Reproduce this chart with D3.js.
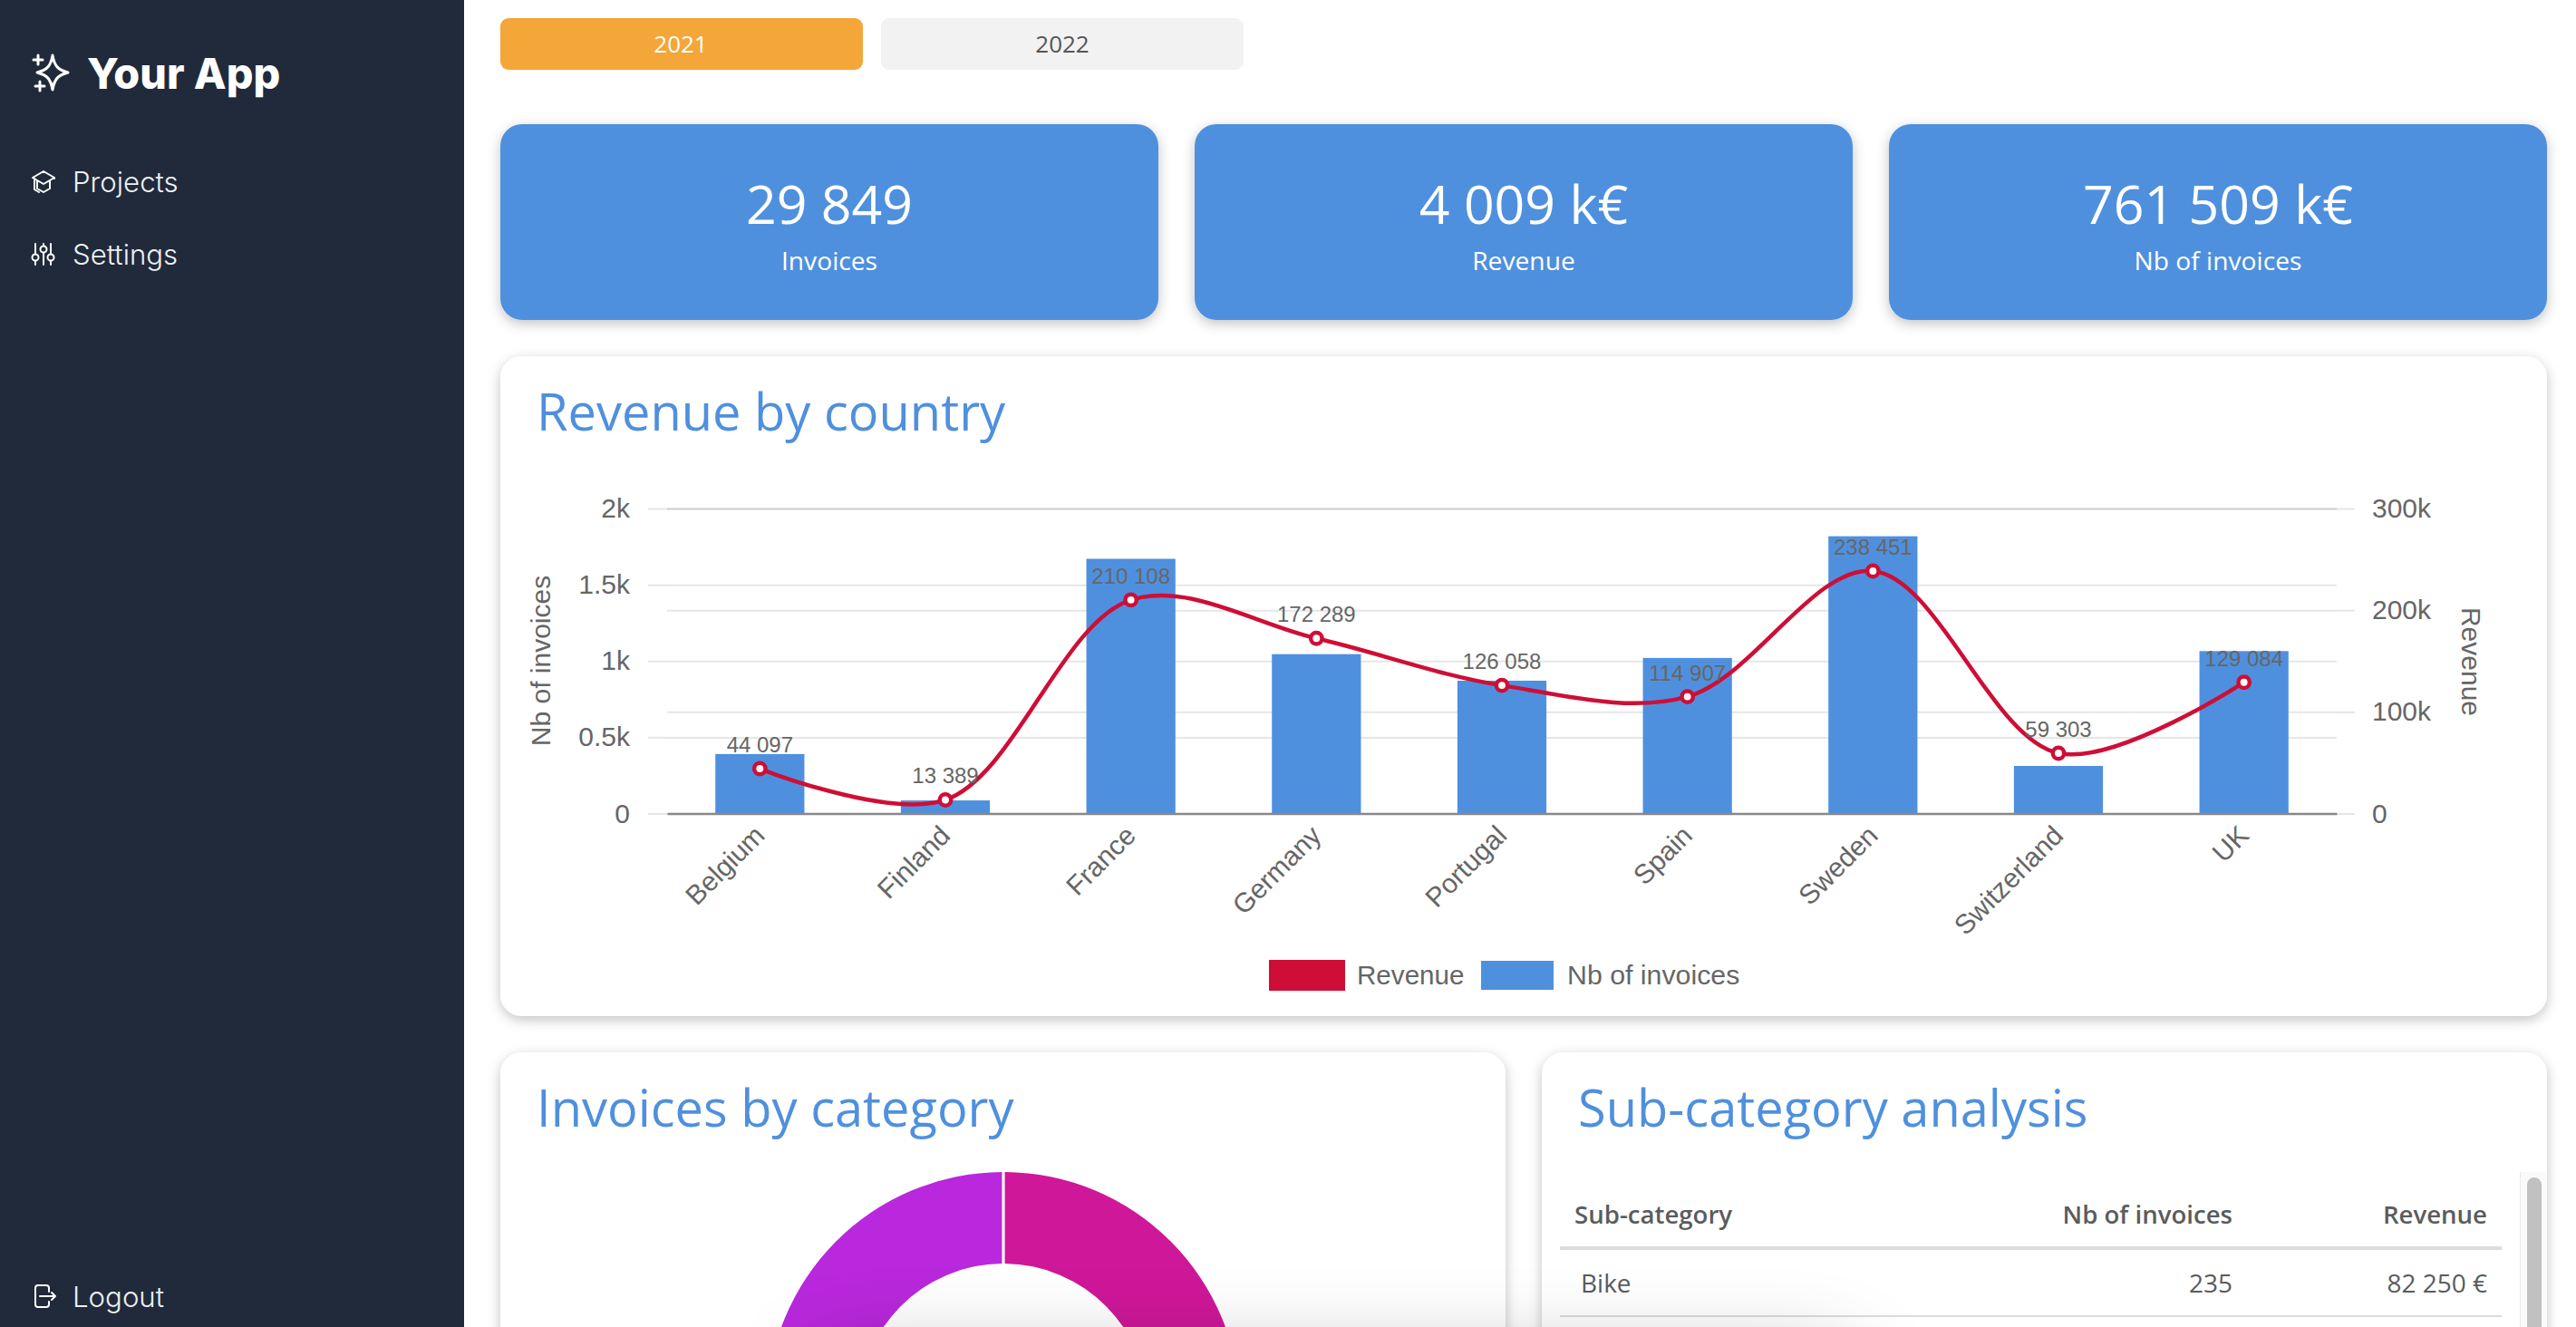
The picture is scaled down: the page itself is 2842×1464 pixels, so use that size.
<!DOCTYPE html>
<html>
<head>
<meta charset="utf-8">
<script src="https://cdnjs.cloudflare.com/ajax/libs/d3/7.8.5/d3.min.js"></script>
<style>
html, body { margin: 0; padding: 0; background: #fff; overflow: hidden; }
svg { display: block; }
.open { font-family: "Open Sans", sans-serif; }
.inter { font-family: Inter, sans-serif; }
.chart text { font-family: "Liberation Sans", Arial, sans-serif; fill: #666; }
.icon { fill: none; stroke: #fff; stroke-linecap: round; stroke-linejoin: round; }
</style>
</head>
<body>
<div id="app"></div>
<script>
var years = ["2021", "2022"];
var kpiValues = ["29 849", "4 009 k€", "761 509 k€"];
var kpiLabels = ["Invoices", "Revenue", "Nb of invoices"];
var menuItems = ["Projects", "Settings"];

var countries = ["Belgium", "Finland", "France", "Germany", "Portugal", "Spain", "Sweden", "Switzerland", "UK"];
var nbInvoices = [390, 86, 1670, 1045, 871, 1020, 1818, 312, 1065];
var revenue = [44097, 13389, 210108, 172289, 126058, 114907, 238451, 59303, 129084];
var leftTicks = [0, 500, 1000, 1500, 2000];
var rightTicks = [0, 100000, 200000, 300000];

var categoryShares = [50, 50];
var categoryColors = ["#cf1799", "#b928dc"];

var tableHeader = ["Sub-category", "Nb of invoices", "Revenue"];
var tableRow = ["Bike", "235", "82 250 €"];

var blue = "#4f90de", red = "#ce0e36";

var svg = d3.select("#app").append("svg")
    .attr("width", 2842)
    .attr("height", 1464);

var defs = svg.append("defs");
var shadow = defs.append("filter").attr("id", "shadow")
    .attr("x", "-5%").attr("y", "-10%").attr("width", "110%").attr("height", "125%");
shadow.append("feDropShadow")
    .attr("dx", 0).attr("dy", 4).attr("stdDeviation", 7)
    .attr("flood-color", "#000").attr("flood-opacity", 0.24);
defs.append("filter").attr("id", "blur")
    .attr("x", "-30%").attr("y", "-100%").attr("width", "160%").attr("height", "300%")
    .append("feGaussianBlur").attr("stdDeviation", 50);

// sidebar
var side = svg.append("g");
side.append("rect").attr("width", 512).attr("height", 1464).attr("fill", "#202a3a");
side.append("text").attr("class", "inter")
    .attr("x", 96).attr("y", 98)
    .attr("font-size", 46.7).attr("font-weight", 800).attr("fill", "#fff")
    .text("Your App");
side.selectAll(".menu").data(menuItems).enter().append("text")
    .attr("class", "inter menu")
    .attr("x", 80).attr("y", (d, i) => 212 + i * 80)
    .attr("font-size", 31.2).attr("font-weight", 300).attr("fill", "#eef0f3")
    .text(d => d);
side.append("text").attr("class", "inter")
    .attr("x", 80).attr("y", 1442)
    .attr("font-size", 31.2).attr("font-weight", 300).attr("fill", "#eef0f3")
    .text("Logout");

// sidebar icons
side.append("path").attr("class", "icon").attr("stroke-width", 3)
    .attr("d", "M58 61 C60 73 64 77 75 80 C64 83 60 87 58 99 C56 87 52 83 41 80 C52 77 56 73 58 61 Z M37 66 H47 M42 61 V71 M39 95 H49 M44 90 V100");
side.append("path").attr("class", "icon").attr("stroke-width", 2)
    .attr("d", "M60 196 L48 189 L36 196 L48 203 L60 196 V197 M41 199 V208 L48 212 L55 208 V199 M38 197 V209 L43 212");
side.append("path").attr("class", "icon").attr("stroke-width", 2)
    .attr("d", "M39 269 V280 M39 288 V292 M48 269 V271 M48 279 V292 M56 269 V280 M56 288 V292");
side.selectAll(".knob").data([[39, 284], [48, 275], [56, 284]]).enter().append("circle")
    .attr("class", "icon").attr("stroke-width", 2)
    .attr("cx", d => d[0]).attr("cy", d => d[1]).attr("r", 3.5);
side.append("path").attr("class", "icon").attr("stroke-width", 2)
    .attr("d", "M54 1425 V1421 Q54 1418 51 1418 H42 Q39 1418 39 1421 V1439 Q39 1442 42 1442 H51 Q54 1442 54 1439 V1436 M44 1430 H61 M57 1426 L61 1430 L57 1434");

// year buttons
var buttons = svg.selectAll(".year").data(years).enter().append("g").attr("class", "year");
buttons.append("rect")
    .attr("x", (d, i) => 552 + i * 420).attr("y", 20)
    .attr("width", 400).attr("height", 57).attr("rx", 9)
    .attr("fill", (d, i) => i == 0 ? "#f4a638" : "#f2f2f2");
buttons.append("text").attr("class", "open")
    .attr("x", (d, i) => 751 + i * 421).attr("y", 58)
    .attr("text-anchor", "middle").attr("font-size", 26)
    .attr("fill", (d, i) => i == 0 ? "#fff" : "#555")
    .text(d => d);

// kpi cards
var kpi = svg.selectAll(".kpi").data(kpiValues).enter().append("g").attr("class", "kpi");
kpi.append("rect")
    .attr("x", (d, i) => 552 + i * 766).attr("y", 137)
    .attr("width", 726).attr("height", 216).attr("rx", 24)
    .attr("fill", blue).attr("filter", "url(#shadow)");
kpi.append("text").attr("class", "open")
    .attr("x", (d, i) => 915 + i * 766).attr("y", 247)
    .attr("text-anchor", "middle").attr("font-size", 59).attr("fill", "#fff")
    .text(d => d);
kpi.append("text").attr("class", "open")
    .attr("x", (d, i) => 915 + i * 766).attr("y", 298)
    .attr("text-anchor", "middle").attr("font-size", 28.2).attr("fill", "#fff")
    .text((d, i) => kpiLabels[i]);

// white cards
var panels = [[552, 393, 2258, 728, "Revenue by country", 592, 475],
              [552, 1161, 1109, 400, "Invoices by category", 592, 1243],
              [1701, 1161, 1109, 400, "Sub-category analysis", 1741, 1243]];
var panel = svg.selectAll(".panel").data(panels).enter().append("g").attr("class", "panel");
panel.append("rect")
    .attr("x", d => d[0]).attr("y", d => d[1])
    .attr("width", d => d[2]).attr("height", d => d[3]).attr("rx", 24)
    .attr("fill", "#fff").attr("filter", "url(#shadow)");
panel.append("text").attr("class", "open")
    .attr("x", d => d[5]).attr("y", d => d[6])
    .attr("font-size", 56).attr("fill", blue)
    .text(d => d[4]);

// combo chart
var plot = {left: 736, right: 2578, top: 561, bottom: 897.5};
var xScale = d3.scaleBand().domain(countries).range([plot.left, plot.right]).paddingInner(0.52).paddingOuter(0.26);
var yLeft = d3.scaleLinear().domain([0, 2000]).range([plot.bottom, plot.top]);
var yRight = d3.scaleLinear().domain([0, 300000]).range([plot.bottom, plot.top]);
var spaced = d3.formatLocale({decimal: ".", thousands: " ", grouping: [3], currency: ["", ""]}).format(",d");
var shortK = v => v == 0 ? "0" : (v / 1000) + "k";
var plotWidth = plot.right - plot.left;

var chart = svg.append("g").attr("class", "chart");

function styleAxis(g) {
    g.select(".domain").remove();
    g.selectAll("line").attr("stroke", "#e6e6e6").attr("stroke-width", 2);
    g.selectAll("text").attr("font-size", 30);
}

chart.append("g")
    .attr("transform", "translate(" + plot.left + ",0)")
    .call(d3.axisLeft(yLeft).tickValues(leftTicks).tickFormat(shortK).tickSize(21).tickPadding(20))
    .call(styleAxis);
chart.append("g")
    .attr("transform", "translate(" + plot.right + ",0)")
    .call(d3.axisRight(yRight).tickValues(rightTicks).tickFormat(shortK).tickSize(20).tickPadding(19))
    .call(styleAxis);
chart.append("g")
    .attr("transform", "translate(" + plot.left + ",0)")
    .call(d3.axisLeft(yLeft).tickValues(leftTicks).tickFormat("").tickSize(-plotWidth))
    .call(styleAxis)
    .selectAll("line").attr("stroke", d => d == 2000 ? "#cccccc" : "#e6e6e6");
chart.append("g")
    .attr("transform", "translate(" + plot.right + ",0)")
    .call(d3.axisRight(yRight).tickValues(rightTicks.slice(1, 3)).tickFormat("").tickSize(-plotWidth))
    .call(styleAxis);

chart.selectAll(".bar").data(countries).enter().append("rect")
    .attr("class", "bar")
    .attr("x", d => xScale(d))
    .attr("y", (d, i) => yLeft(nbInvoices[i]))
    .attr("width", xScale.bandwidth())
    .attr("height", (d, i) => plot.bottom - yLeft(nbInvoices[i]))
    .attr("fill", blue);

var xAxis = chart.append("g")
    .attr("transform", "translate(0," + plot.bottom + ")")
    .call(d3.axisBottom(xScale).tickSize(0));
xAxis.select(".domain").attr("stroke", "#888").attr("stroke-width", 2.5);
xAxis.selectAll("text")
    .attr("font-size", 30)
    .attr("text-anchor", "end")
    .attr("dy", 0)
    .attr("transform", "translate(5,24) rotate(-45)");

var centers = countries.map(d => xScale(d) + xScale.bandwidth() / 2);
var line = d3.line()
    .x((d, i) => centers[i])
    .y(d => yRight(d))
    .curve(d3.curveCatmullRom.alpha(0.5));
chart.append("path").datum(revenue)
    .attr("fill", "none").attr("stroke", red).attr("stroke-width", 4.5)
    .attr("d", line);
chart.selectAll(".point").data(revenue).enter().append("circle")
    .attr("class", "point")
    .attr("cx", (d, i) => centers[i])
    .attr("cy", d => yRight(d))
    .attr("r", 6.2)
    .attr("fill", "#fff").attr("stroke", red).attr("stroke-width", 4.5);
chart.selectAll(".value").data(revenue).enter().append("text")
    .attr("class", "value")
    .attr("x", (d, i) => centers[i])
    .attr("y", d => yRight(d) - 18)
    .attr("text-anchor", "middle").attr("font-size", 24)
    .text(d => spaced(d));

chart.append("text")
    .attr("transform", "translate(607,729) rotate(-90)")
    .attr("text-anchor", "middle").attr("font-size", 30)
    .text("Nb of invoices");
chart.append("text")
    .attr("transform", "translate(2716,730) rotate(90)")
    .attr("text-anchor", "middle").attr("font-size", 30)
    .text("Revenue");

// legend
chart.append("rect").attr("x", 1400).attr("y", 1059).attr("width", 84).attr("height", 34).attr("fill", red);
chart.append("rect").attr("x", 1634).attr("y", 1060).attr("width", 80).attr("height", 32).attr("fill", blue);
chart.append("text").attr("x", 1497).attr("y", 1086).attr("font-size", 29.6).text("Revenue");
chart.append("text").attr("x", 1729).attr("y", 1086).attr("font-size", 30.3).text("Nb of invoices");

// donut
var pie = d3.pie().sort(null)(categoryShares);
var arc = d3.arc().innerRadius(160).outerRadius(261).padAngle(0.012).padRadius(261);
svg.append("g")
    .attr("transform", "translate(1107,1554)")
    .selectAll("path").data(pie).enter().append("path")
    .attr("d", arc)
    .attr("fill", (d, i) => categoryColors[i]);

// table
var colX = [1737, 2463, 2744], colAnchor = ["start", "end", "end"];
svg.selectAll(".th").data(tableHeader).enter().append("text")
    .attr("class", "open th")
    .attr("x", (d, i) => colX[i]).attr("y", 1350)
    .attr("text-anchor", (d, i) => colAnchor[i])
    .attr("font-size", 27.6).attr("font-weight", 600).attr("fill", "#5a5c5e")
    .text(d => d);
svg.selectAll(".td").data(tableRow).enter().append("text")
    .attr("class", "open td")
    .attr("x", (d, i) => i == 0 ? 1744 : colX[i]).attr("y", 1426)
    .attr("text-anchor", (d, i) => colAnchor[i])
    .attr("font-size", 28).attr("fill", "#5a5c5e")
    .text(d => d);
svg.append("rect").attr("x", 1721).attr("y", 1375).attr("width", 1039).attr("height", 4).attr("fill", "#dcdcdc");
svg.append("rect").attr("x", 1721).attr("y", 1451).attr("width", 1039).attr("height", 2).attr("fill", "#dcdcdc");

// scrollbar
svg.append("rect").attr("x", 2780).attr("y", 1293).attr("width", 30).attr("height", 171).attr("fill", "#fafafa");
svg.append("rect").attr("x", 2780).attr("y", 1293).attr("width", 1).attr("height", 171).attr("fill", "#e8e8e8");
svg.append("rect").attr("x", 2788).attr("y", 1299).attr("width", 16).attr("height", 200).attr("rx", 8).attr("fill", "#c1c1c1");

// shadow coming from something just under the fold
svg.append("rect")
    .attr("x", 900).attr("y", 1500).attr("width", 1140).attr("height", 120)
    .attr("fill", "#000").attr("opacity", 0.28).attr("filter", "url(#blur)");
</script>
</body>
</html>
